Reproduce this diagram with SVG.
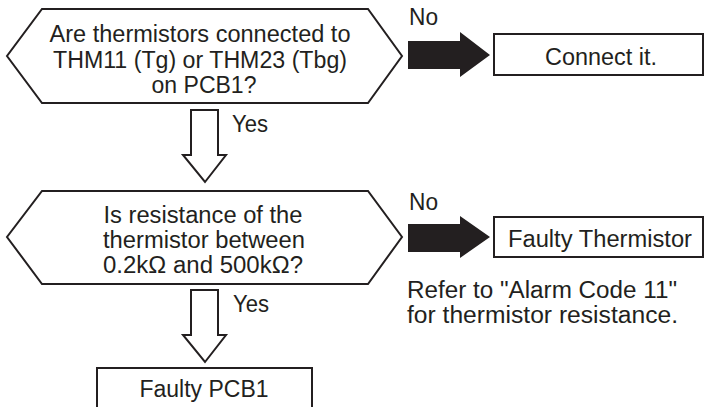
<svg xmlns="http://www.w3.org/2000/svg" width="704" height="407" viewBox="0 0 704 407">
<style>
.shape{fill:#fff;stroke:#231f20;stroke-width:2;stroke-linejoin:miter}
.t{font-family:"Liberation Sans",Arial,sans-serif;font-size:23px;fill:#231f20}
.m{text-anchor:middle}
.solid{fill:#231f20;stroke:none}
.hollow{fill:#fff;stroke:#231f20;stroke-width:2}
</style>
<rect width="704" height="407" fill="#fff"/>
<g id="q1">
<polygon class="shape" points="42,9 368,9 402,56 368,103 42,103 7,56"/>
<text class="t m" x="200" y="42" textLength="301" lengthAdjust="spacingAndGlyphs">Are thermistors connected to</text>
<text class="t m" x="200" y="68" textLength="294" lengthAdjust="spacingAndGlyphs">THM11 (Tg) or THM23 (Tbg)</text>
<text class="t m" x="204" y="93" textLength="105" lengthAdjust="spacingAndGlyphs">on PCB1?</text>
</g>
<g id="connect">
<rect class="shape" x="494" y="34" width="209" height="41"/>
<text class="t m" x="601" y="65" textLength="112" lengthAdjust="spacingAndGlyphs">Connect it.</text>
</g>
<g id="q2">
<polygon class="shape" points="42,191 368,191 402,237 368,284 42,284 7,237"/>
<text class="t m" x="203" y="223" textLength="199" lengthAdjust="spacingAndGlyphs">Is resistance of the</text>
<text class="t m" x="204" y="248" textLength="202" lengthAdjust="spacingAndGlyphs">thermistor between</text>
<text class="t m" x="203" y="273" textLength="200" lengthAdjust="spacingAndGlyphs">0.2kΩ and 500kΩ?</text>
</g>
<g id="thermistor">
<rect class="shape" x="494" y="217" width="209" height="40"/>
<text class="t m" x="600" y="247" textLength="184" lengthAdjust="spacingAndGlyphs">Faulty Thermistor</text>
</g>
<g id="note">
<text class="t" x="407" y="298" textLength="270" lengthAdjust="spacingAndGlyphs">Refer to "Alarm Code 11"</text>
<text class="t" x="407" y="323" textLength="271" lengthAdjust="spacingAndGlyphs">for thermistor resistance.</text>
</g>
<g id="pcb">
<rect class="shape" x="97" y="368" width="215" height="45"/>
<text class="t m" x="204" y="397" textLength="129" lengthAdjust="spacingAndGlyphs">Faulty PCB1</text>
</g>
<g id="connectors">
<polygon class="solid" points="408,41 460,41 460,32 490,55 460,77 460,69 408,69"/>
<text class="t" x="409" y="25" textLength="29" lengthAdjust="spacingAndGlyphs">No</text>
<polygon class="solid" points="408,224 460,224 460,216 490,237 460,258 460,252 408,252"/>
<text class="t" x="409" y="210" textLength="29" lengthAdjust="spacingAndGlyphs">No</text>
<polygon class="hollow" points="191,110 218,110 218,155 226,155 205,182 183,155 191,155"/>
<text class="t" x="232" y="132" textLength="36" lengthAdjust="spacingAndGlyphs">Yes</text>
<polygon class="hollow" points="191,290 218,290 218,335 226,335 205,362 183,335 191,335"/>
<text class="t" x="233" y="312" textLength="36" lengthAdjust="spacingAndGlyphs">Yes</text>
</g>
</svg>
